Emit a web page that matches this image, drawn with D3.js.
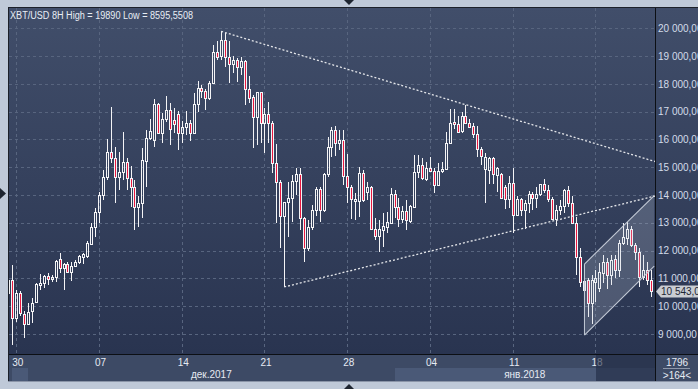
<!DOCTYPE html>
<html>
<head>
<meta charset="utf-8">
<script src="https://cdn.jsdelivr.net/npm/d3@7"></script>
<style>
html, body { margin: 0; padding: 0; background: #bfc9d8; }
svg { display: block; font-family: "Liberation Sans", Arial, sans-serif; }
</style>
</head>
<body>
<svg id="chart" width="698" height="389"></svg>
<script>
// XBT/USD, 8 hour bars, first bar opens 29 Nov 2017 08:00
const firstBar = new Date(2017, 10, 29, 8);

const openP = [
  10470, 10940, 9570, 10470, 9720, 9360, 9820, 10150, 10760, 10830,
  11080, 10980, 11050, 11700, 11370, 11520, 11230, 11440, 11590, 11770,
  11800, 12240, 12850, 13390, 14000, 14650, 15550, 15330, 14650, 14830,
  15190, 14610, 14290, 13570, 13710, 15220, 16050, 15980, 17280, 16230,
  16740, 17060, 16700, 16920, 16230, 16450, 16590, 16230, 17280, 17850,
  17740, 17490, 18030, 19150, 19000, 19580, 18970, 18720, 18860, 18610,
  18820, 17820, 17530, 16810, 17710, 16590, 16920, 16590, 15150, 14470,
  13240, 13750, 13890, 14500, 14760, 13170, 12090, 12850, 13460, 14220,
  13460, 14760, 15730, 16340, 15870, 15980, 14680, 14290, 13780, 13780,
  14790, 14110, 14290, 12780, 12520, 12740, 12850, 12990, 14040, 13570,
  13140, 13420, 13060, 13570, 14830, 15080, 14580, 14970, 14860, 14360,
  14860, 14940, 15870, 16630, 16560, 16300, 16840, 16590, 16480, 16200,
  15660, 14940, 14900, 15330, 14720, 14760, 14290, 13860, 14430, 13280,
  13860, 13460, 13710, 14040, 13890, 14040, 14400, 14180, 13860, 13140,
  13460, 13600, 14180, 13710, 12990, 11770, 10580, 10940, 10110, 10870,
  10650, 11190, 11590, 11120, 11700, 11300, 12270, 12450, 12780, 12200,
  11950, 11050, 11300, 10940
];
const highP = [
  11050, 11480, 10580, 10540, 9820, 10110, 10290, 10830, 11160, 11120,
  11190, 11120, 11660, 11910, 11550, 11590, 11590, 11660, 11840, 11910,
  12340, 12990, 13530, 14110, 14900, 16020, 17170, 15730, 15550, 16270,
  15330, 15040, 14540, 13960, 15690, 16340, 16740, 17460, 17310, 16950,
  17560, 17310, 17130, 17020, 16660, 17020, 16700, 17670, 18100, 17960,
  17820, 18100, 19400, 19540, 19890, 19830, 19540, 19000, 18930, 18970,
  18860, 18280, 17600, 17710, 17710, 17130, 17350, 16660, 15840, 14540,
  13750, 14470, 14720, 14970, 14970, 13210, 13100, 13640, 14290, 14290,
  14790, 16090, 16450, 16480, 16340, 16340, 15480, 14360, 14070, 15010,
  14900, 14470, 14320, 13170, 13100, 13350, 13390, 14250, 14180, 13890,
  13600, 13820, 13640, 15440, 15440, 15330, 15190, 15370, 14970, 15150,
  15190, 16270, 17100, 17100, 16840, 16990, 17240, 16740, 16590, 16480,
  15730, 15510, 15370, 15370, 15010, 14790, 14360, 14680, 14970, 13960,
  13890, 13820, 14140, 14110, 14290, 14400, 14580, 14360, 13930, 13640,
  13820, 14220, 14320, 13960, 13210, 12090, 11480, 11010, 11120, 11300,
  11550, 11840, 11730, 11840, 11840, 12380, 12990, 13030, 12880, 12270,
  12090, 11840, 11590, 11300
];
const lowP = [
  10360, 8595.55, 9430, 9640, 8850, 9320, 9390, 10110, 10580, 10650,
  10760, 10870, 10870, 11190, 10580, 11190, 10900, 11400, 11510, 11510,
  11730, 12200, 12490, 12990, 13820, 14540, 15150, 13710, 14180, 14540,
  14180, 13570, 12740, 12850, 13170, 14290, 15980, 15730, 16190, 15870,
  16630, 15800, 16230, 15620, 15870, 16160, 15940, 16190, 16990, 17490,
  17060, 17420, 17990, 18860, 18860, 18610, 18030, 18390, 18070, 18320,
  17240, 17310, 15690, 15800, 15870, 15510, 15870, 14790, 12990, 12090,
  10690, 12490, 13030, 14000, 12740, 11590, 11980, 12740, 13240, 13030,
  13390, 14650, 15370, 15400, 15620, 14360, 13710, 13140, 13100, 13210,
  13750, 13820, 12740, 12380, 11950, 12130, 12630, 12990, 13170, 12850,
  12990, 12740, 12990, 13530, 14610, 14540, 14500, 14830, 14070, 14320,
  14790, 14900, 15870, 16380, 16230, 16230, 16560, 16410, 16050, 15370,
  15080, 13710, 14400, 14400, 14110, 13890, 13500, 13530, 12630, 13280,
  13240, 12780, 13350, 13460, 13530, 13960, 14070, 13750, 13100, 12880,
  13280, 13350, 13570, 12960, 11120, 10690, 10220, 9610, 9360, 10150,
  10510, 10830, 10620, 10760, 11010, 11050, 12200, 12200, 12130, 11660,
  10690, 10940, 10760, 10330
];
const closeP = [
  10940, 9570, 10470, 9750, 9360, 9790, 10110, 10800, 10830, 11080,
  10980, 11050, 11620, 11370, 11520, 11230, 11440, 11590, 11800, 11880,
  12270, 12850, 13390, 14000, 14650, 15550, 15330, 14650, 14830, 15190,
  14610, 14290, 13570, 13710, 15260, 16050, 16300, 17280, 16230, 16740,
  17060, 16380, 16560, 16230, 16450, 16590, 16230, 17280, 17850, 17740,
  17490, 18030, 19150, 18970, 19580, 18970, 18720, 18860, 18610, 18820,
  17820, 17490, 16810, 17710, 16590, 16920, 16590, 15150, 14470, 13240,
  13750, 13890, 14500, 14760, 13170, 12090, 12850, 13460, 14220, 13460,
  14760, 15730, 16340, 15870, 15980, 14680, 14290, 13860, 13860, 14790,
  13820, 14290, 12780, 12520, 12780, 12880, 13030, 14040, 13570, 13140,
  13420, 13100, 13600, 14830, 15080, 14610, 14970, 14860, 14360, 14860,
  14940, 15870, 16590, 16560, 16270, 16840, 16590, 16450, 16200, 15660,
  15400, 15370, 15330, 14760, 14970, 13890, 13860, 14430, 13280, 13860,
  13460, 13710, 14040, 13890, 14040, 14400, 14180, 13860, 13140, 13460,
  13600, 14180, 13710, 12990, 11770, 10870, 10900, 10110, 10940, 11010,
  11230, 11590, 11120, 11660, 11300, 12270, 12490, 12780, 12200, 11950,
  11050, 11300, 10940, 10543
];

const priceTicks = [9000, 10000, 11000, 12000, 13000, 14000, 15000, 16000, 17000, 18000, 19000, 20000];
const shortMonthsRu = ["янв.", "февр.", "март", "апр.", "май", "июнь", "июль", "авг.", "сент.", "окт.", "нояб.", "дек."];
const titleText = "XBT/USD 8H  High = 19890 Low = 8595,5508";
const lastPrice = 10543;
const totalBars = "1796";
const shownBars = ">164<";

// drawn lines, as [bar index, price]
const upperTrend = [[54, 19890], [164.1, 15205]];
const lowerTrend = [[70, 10690], [164.1, 13963]];
const channelTop = [[146.2, 11515], [163.9, 13974]];
const channelBottom = [[146.2, 8959], [163.9, 11443]];

const bars = openP.map((o, i) => ({
  i: i,
  t: new Date(+firstBar + i * 8 * 3600e3),
  o: o, h: highP[i], l: lowP[i], c: closeP[i]
}));

const L = 9, R = 655, T = 8, B = 354, AXB = 381;
const svg = d3.select("#chart");

const x = d3.scaleLinear().domain([0.16, 164.1]).range([L, R]);
const y = d3.scaleLinear().domain([9000, 20000]).range([333.9, 28.3]);

const ru = d3.formatLocale({ decimal: ",", thousands: "\u00a0", grouping: [3], currency: ["", ""] });
const priceFmt = ru.format(",.2f");
const lastFmt = ru.format(",.1f");
const ruTime = d3.timeFormatLocale({
  dateTime: "%A, %e %B %Y г. %X", date: "%d.%m.%Y", time: "%H:%M:%S", periods: ["AM", "PM"],
  days: ["воскресенье", "понедельник", "вторник", "среда", "четверг", "пятница", "суббота"],
  shortDays: ["вс", "пн", "вт", "ср", "чт", "пт", "сб"],
  months: ["январь", "февраль", "март", "апрель", "май", "июнь", "июль", "август", "сентябрь", "октябрь", "ноябрь", "декабрь"],
  shortMonths: shortMonthsRu
});
const monthFmt = ruTime.format("%b%Y");
const dayFmt = ruTime.format("%d");

// background and frame
const defs = svg.append("defs");
const grad = defs.append("linearGradient").attr("id", "bg")
  .attr("x1", 0).attr("y1", 0).attr("x2", 0).attr("y2", 1);
grad.append("stop").attr("offset", "0%").attr("stop-color", "#414e6a");
grad.append("stop").attr("offset", "100%").attr("stop-color", "#293450");
defs.append("clipPath").attr("id", "plotClip")
  .append("rect").attr("x", L).attr("y", T).attr("width", R - L).attr("height", B - T);

svg.append("rect").attr("width", 698).attr("height", 389).attr("fill", "#bfc9d8");
svg.append("rect").attr("x", 8).attr("y", 7).attr("width", 690).attr("height", B - 7).attr("fill", "url(#bg)");
svg.append("rect").attr("x", 8).attr("y", B).attr("width", 690).attr("height", AXB - B).attr("fill", "#3d4a65");

// month bands on the time axis
const monthStarts = bars.filter(d => d.t.getDate() === 1 && d.t.getHours() === 0);
const bandEdges = [x.domain()[0]].concat(monthStarts.map(d => d.i), [x.domain()[1]]);
const bands = d3.range(bandEdges.length - 1).map(k => ({
  a: bandEdges[k], b: bandEdges[k + 1],
  t: k === 0 ? bars[0].t : bars[bandEdges[k]].t,
  light: k % 2 === 0
}));
const bandG = svg.append("g");
bandG.selectAll("rect").data(bands.filter(d => d.light)).join("rect")
  .attr("x", d => Math.max(12, Math.round(x(d.a))))
  .attr("width", d => Math.round(x(d.b)) - Math.max(12, Math.round(x(d.a))))
  .attr("y", 368).attr("height", AXB - 368)
  .attr("fill", "#4a5977");
bandG.selectAll("text").data(bands.filter(d => x(d.b) - x(d.a) > 60)).join("text")
  .attr("x", d => (x(d.a) + x(d.b)) / 2)
  .attr("y", 377.5)
  .attr("text-anchor", "middle")
  .attr("font-size", 10)
  .attr("fill", "#e6ebf3")
  .text(d => monthFmt(d.t));

// grid
const weekTicks = bars.filter(d => d.t.getDay() === 4 && d.t.getHours() === 0).map(d => d.i);
const grid = svg.append("g").attr("stroke", "#58657f").attr("stroke-dasharray", "3,3");
grid.selectAll("line.h").data(priceTicks).join("line").attr("class", "h")
  .attr("x1", L).attr("x2", R)
  .attr("y1", d => Math.round(y(d)) + 0.5).attr("y2", d => Math.round(y(d)) + 0.5);
grid.selectAll("line.v").data(weekTicks).join("line").attr("class", "v")
  .attr("y1", T).attr("y2", B)
  .attr("x1", d => Math.round(x(d)) + 0.5).attr("x2", d => Math.round(x(d)) + 0.5);

// bottom axis labels
const xAxis = d3.axisBottom(x).tickValues(weekTicks).tickSize(0).tickPadding(5)
  .tickFormat(i => dayFmt(bars[i].t));
const xg = svg.append("g").attr("transform", `translate(1,${B})`).call(xAxis);
xg.select(".domain").remove();
xg.selectAll("text").attr("font-size", 10).attr("fill", "#e6ebf3")
  .attr("font-family", "Liberation Sans, Arial, sans-serif");

// shaded tail of the scroll area
svg.append("rect").attr("x", 596).attr("y", B).attr("width", R - 596).attr("height", AXB - B)
  .attr("fill", "#1f2942").attr("opacity", 0.6);

// candles
const plot = svg.append("g").attr("clip-path", "url(#plotClip)");
const candle = plot.selectAll("g.bar").data(bars).join("g").attr("class", "bar");
const cx = d => Math.round(x(d.i));
const bodyTop = d => Math.round(y(Math.max(d.o, d.c)));
const bodyBot = d => Math.max(Math.round(y(Math.min(d.o, d.c))), bodyTop(d) + 2);
candle.append("line")
  .attr("x1", d => cx(d) + 0.5).attr("x2", d => cx(d) + 0.5)
  .attr("y1", d => Math.round(y(d.h))).attr("y2", d => bodyTop(d))
  .attr("stroke", "#f4f4f6");
candle.append("line")
  .attr("x1", d => cx(d) + 0.5).attr("x2", d => cx(d) + 0.5)
  .attr("y1", d => bodyBot(d)).attr("y2", d => Math.round(y(d.l)))
  .attr("stroke", "#f4f4f6");
candle.append("rect")
  .attr("x", d => cx(d) - 0.5)
  .attr("y", d => bodyTop(d) + 0.5)
  .attr("width", 2)
  .attr("height", d => bodyBot(d) - bodyTop(d))
  .attr("fill", d => d.c < d.o ? "#e8173f" : "none")
  .attr("stroke", "#f4f4f6");

// drawings: channel and trend lines
const line = d3.line().x(d => x(d[0])).y(d => y(d[1]));
plot.append("path")
  .attr("d", line(channelTop.concat(channelBottom.slice().reverse())) + "Z")
  .attr("fill", "#c8d0de").attr("fill-opacity", 0.22);
[channelTop, channelBottom].forEach(pts => {
  plot.append("path").attr("d", line(pts)).attr("fill", "none")
    .attr("stroke", "#c3cad6").attr("stroke-width", 1.1);
});
plot.append("line")
  .attr("x1", x(channelTop[0][0])).attr("x2", x(channelBottom[0][0]))
  .attr("y1", y(channelTop[0][1])).attr("y2", y(channelBottom[0][1]))
  .attr("stroke", "#c3cad6");
[upperTrend, lowerTrend].forEach(pts => {
  plot.append("path").attr("d", line(pts)).attr("fill", "none")
    .attr("stroke", "#e4e6ea").attr("stroke-width", 1.3).attr("stroke-dasharray", "2,2");
});

// axis rules
svg.append("line").attr("x1", R + 0.5).attr("x2", R + 0.5).attr("y1", 7).attr("y2", AXB)
  .attr("stroke", "#0c0f14");
svg.append("line").attr("x1", 8).attr("x2", 698).attr("y1", B + 0.5).attr("y2", B + 0.5)
  .attr("stroke", "#0c0f14");
svg.append("line").attr("x1", 8).attr("x2", 698).attr("y1", 7.5).attr("y2", 7.5).attr("stroke", "#1c2029");
svg.append("line").attr("x1", 8.5).attr("x2", 8.5).attr("y1", 7).attr("y2", AXB).attr("stroke", "#1c2029");
svg.append("line").attr("x1", 8).attr("x2", 698).attr("y1", AXB + 0.5).attr("y2", AXB + 0.5).attr("stroke", "#8b95a8");

// right price axis
const yAxis = d3.axisRight(y).tickValues(priceTicks).tickSize(0).tickPadding(0).tickFormat(priceFmt);
const yg = svg.append("g").attr("transform", `translate(${R + 3},0)`).call(yAxis);
yg.select(".domain").remove();
yg.selectAll("text").attr("font-size", 10).attr("fill", "#d3dcea")
  .attr("font-family", "Liberation Sans, Arial, sans-serif");

// last price tag
const py = Math.round(y(lastPrice)) + 0.5;
svg.append("path")
  .attr("d", `M${R + 1},${py} L${R + 6},${py - 6} L700,${py - 6} L700,${py + 6} L${R + 6},${py + 6} Z`)
  .attr("fill", "#c9cdd3");
svg.append("text").attr("x", R + 6).attr("y", py).attr("dy", "0.35em")
  .attr("font-size", 10).attr("fill", "#1d2533").text(lastFmt(lastPrice));

// title
svg.append("text").attr("x", 10).attr("y", 18.5)
  .attr("font-size", 10).attr("fill", "#e8edf5")
  .attr("textLength", 183).attr("lengthAdjust", "spacingAndGlyphs")
  .text(titleText);

// bar counters
svg.append("text").attr("x", 677).attr("y", 365.5).attr("text-anchor", "middle")
  .attr("font-size", 10).attr("fill", "#e6ebf3").text(totalBars);
svg.append("line").attr("x1", 663).attr("x2", 690).attr("y1", 368.5).attr("y2", 368.5)
  .attr("stroke", "#8d97aa");
svg.append("text").attr("x", 677).attr("y", 378.5).attr("text-anchor", "middle")
  .attr("font-size", 10).attr("fill", "#e6ebf3").text(shownBars);

// window handles
svg.append("path").attr("d", "M344,0 L354,0 L349,5 Z").attr("fill", "#1e2530");
svg.append("path").attr("d", "M344,389 L354,389 L349,384 Z").attr("fill", "#1e2530");
svg.append("path").attr("d", "M0,188 L6,193.5 L0,199 Z").attr("fill", "#1e2530");
</script>
</body>
</html>
